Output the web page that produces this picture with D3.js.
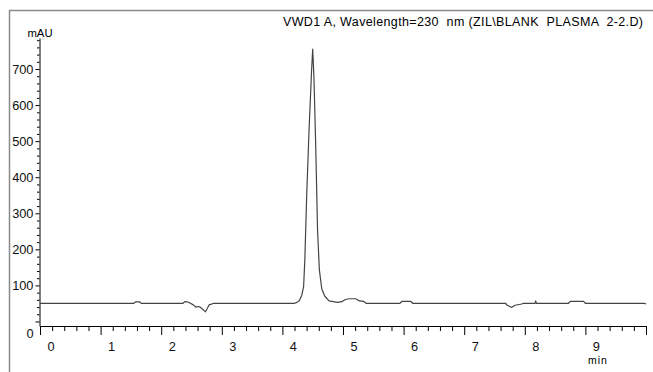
<!DOCTYPE html>
<html>
<head>
<meta charset="utf-8">
<script src="https://cdn.jsdelivr.net/npm/d3@7"></script>
<style>
  body { margin: 0; background: #fff; }
  svg { display: block; font-family: "Liberation Sans", Arial, sans-serif; }
</style>
</head>
<body>
<svg id="chart" width="653" height="372"></svg>
<script>
// retention time (min) and detector signal (mAU)
var times = [0, 1.55, 1.58, 1.64, 1.67, 2.36, 2.39, 2.44, 2.48, 2.53, 2.57, 2.61, 2.64, 2.67, 2.71, 2.73, 2.76, 2.79, 2.83, 2.86,
  4.20, 4.24, 4.28, 4.32, 4.35, 4.37, 4.40, 4.44, 4.48, 4.50, 4.52, 4.55, 4.58, 4.61, 4.65, 4.70, 4.77, 4.84, 4.91, 4.98,
  5.04, 5.10, 5.21, 5.27, 5.34, 5.38, 5.94, 5.97, 6.12, 6.15, 7.68, 7.71, 7.78, 7.84, 7.95, 7.98, 8.17, 8.18, 8.19,
  8.72, 8.75, 8.97, 9.00, 9.96, 10.0];
var signal = [50.5, 50.5, 54.5, 54.5, 50.5, 50.5, 55, 54, 50.5, 46, 40, 41.5, 40, 36, 30, 27, 36, 46, 48, 50.5,
  50.5, 53, 58, 73, 97, 170, 346, 531, 690, 755, 680, 485, 254, 143, 90, 70, 57, 55, 53, 55,
  61, 63, 63, 57, 56, 50.5, 50.5, 55.5, 55.5, 50.5, 50.5, 45, 39, 45, 48.5, 50.5, 50.5, 57, 50.5,
  50.5, 56, 56, 50.5, 50.5, 49];

var xMajor = d3.range(0, 11);
var yMajor = [0, 100, 200, 300, 400, 500, 600, 700];
var titleText = "VWD1 A, Wavelength=230  nm (ZIL\\BLANK  PLASMA  2-2.D)";

var svg = d3.select("#chart");

// outer frame
svg.append("rect")
    .attr("x", 9.5).attr("y", 10.5)
    .attr("width", 700).attr("height", 400)
    .attr("fill", "none")
    .attr("stroke", "#8a8a8a")
    .attr("stroke-width", 1.5);

var x = d3.scaleLinear().domain([0, 10]).range([40, 646]);
var y = d3.scaleLinear().domain([-12.5, 786]).range([326, 38]);

// x axis: minor every 0.2 min, major every minute
svg.append("g")
    .attr("transform", "translate(0,326)")
    .call(d3.axisBottom(x).tickValues(d3.range(0, 50).map(function(i) { return i * 0.2; }).filter(function(v) { return Math.abs(v - Math.round(v)) > 0.01; }))
        .tickSize(5).tickSizeOuter(0).tickFormat(""))
    .call(function(g) { g.select(".domain").remove(); });

var xg = svg.append("g")
    .attr("transform", "translate(0,326)")
    .call(d3.axisBottom(x).tickValues(xMajor).tickSize(9).tickSizeOuter(0).tickPadding(7)
        .tickFormat(function(d) { return d < 10 ? d : ""; }));
xg.selectAll("text").attr("x", 10.5).attr("font-size", 12.8).attr("fill", "#111");

// y axis
svg.append("g")
    .attr("transform", "translate(39.5,0)")
    .call(d3.axisLeft(y).tickValues(d3.range(0, 786, 20).filter(function(v) { return v % 100 != 0; }))
        .tickSize(2.5).tickFormat(""))
    .call(function(g) { g.select(".domain").remove(); });

var yg = svg.append("g")
    .attr("transform", "translate(39.5,0)")
    .call(d3.axisLeft(y).tickValues(yMajor).tickSize(4).tickSizeOuter(0).tickPadding(2));
yg.selectAll("text").attr("font-size", 12.8).attr("fill", "#111");
yg.selectAll(".tick").filter(function(d) { return d == 0; }).select("text").attr("dy", "1.25em");

svg.selectAll(".domain").attr("stroke", "#000");

// trace
var pts = times.map(function(t, i) { return [t, signal[i]]; });
svg.append("path")
    .datum(pts)
    .attr("fill", "none")
    .attr("stroke", "#444")
    .attr("stroke-width", 1.2)
    .attr("stroke-linejoin", "round")
    .attr("d", d3.line().x(function(d) { return x(d[0]); }).y(function(d) { return y(d[1]); }));

// labels
svg.append("text")
    .attr("x", 40).attr("y", 37)
    .attr("text-anchor", "middle")
    .attr("font-size", 11.3)
    .text("mAU");

svg.append("text")
    .attr("x", 598).attr("y", 364)
    .attr("text-anchor", "middle")
    .attr("font-size", 10.5)
    .attr("letter-spacing", 1)
    .text("min");

svg.append("text")
    .attr("x", 283).attr("y", 26)
    .attr("font-size", 12.5)
    .attr("textLength", 360)
    .attr("lengthAdjust", "spacing")
    .style("white-space", "pre")
    .text(titleText);
</script>
</body>
</html>
